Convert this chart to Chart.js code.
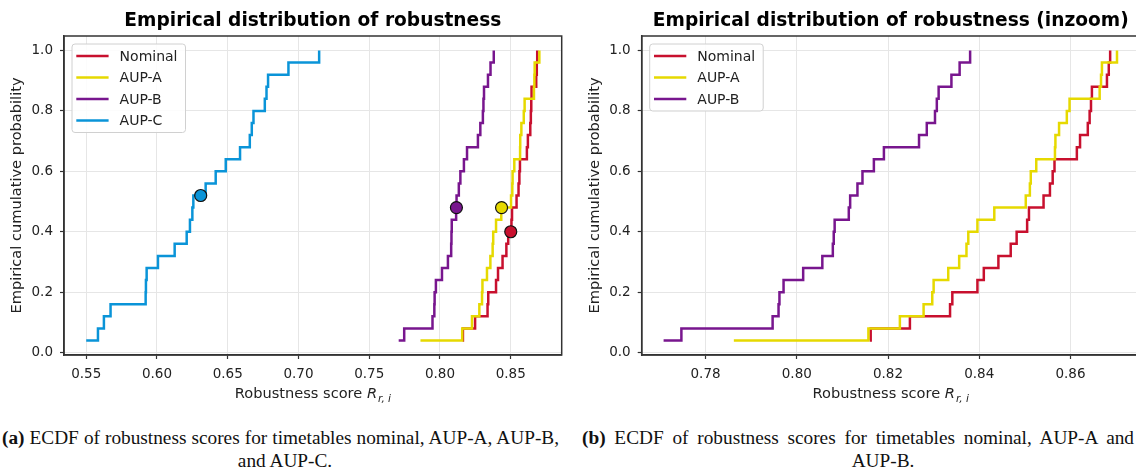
<!DOCTYPE html>
<html>
<head>
<meta charset="utf-8">
<script src="https://cdn.jsdelivr.net/npm/chart.js@4.4.0/dist/chart.umd.min.js"></script>
<style>
  html, body { margin: 0; padding: 0; background: #fff; width: 1136px; height: 473px; overflow: hidden; }
  body { position: relative; }
  canvas { position: absolute; top: 0; }
  #chartA { left: 0; }
  #chartB { left: 575px; }
  .cap { position: absolute; font-family: "Liberation Serif", serif; font-size: 19.3px; line-height: 21px; color: #111; white-space: nowrap; transform: translateX(-50%); }
  .cap.full { transform: none; white-space: normal; text-align: justify; text-align-last: justify; }
</style>
</head>
<body>
<canvas id="chartA" width="570" height="410"></canvas>
<canvas id="chartB" width="573" height="410"></canvas>
<div class="cap full" style="left:2px; top:427px; width:557px"><b>(a)</b> ECDF of robustness scores for timetables nominal, AUP-A, AUP-B,</div>
<div class="cap" style="left:285px; top:450px">and AUP-C.</div>
<div class="cap full" style="left:582px; top:427px; width:552px"><b>(b)</b> ECDF of robustness scores for timetables nominal, AUP-A and</div>
<div class="cap" style="left:883px; top:450px">AUP-B.</div>
<script>
// cumulative probability levels (25 timetables each)
const cumProb = [0.04, 0.08, 0.12, 0.16, 0.20, 0.24, 0.28, 0.32, 0.36, 0.40, 0.44, 0.48, 0.52,
                 0.56, 0.60, 0.64, 0.68, 0.72, 0.76, 0.80, 0.84, 0.88, 0.92, 0.96, 1.00];

// sorted robustness scores per timetable
const nominal = [0.8160, 0.8162, 0.8248, 0.8336, 0.8341, 0.8396, 0.8410, 0.8442, 0.8469, 0.8482, 0.8505, 0.8509, 0.8541,
                 0.8555, 0.8561, 0.8565, 0.8614, 0.8621, 0.8638, 0.8642, 0.8645, 0.8647, 0.8680, 0.8684, 0.8687];
const aupA = [0.7862, 0.8157, 0.8226, 0.8278, 0.8297, 0.8300, 0.8332, 0.8356, 0.8372, 0.8376, 0.8396, 0.8433, 0.8502,
              0.8511, 0.8513, 0.8525, 0.8566, 0.8567, 0.8575, 0.8592, 0.8598, 0.8664, 0.8667, 0.8669, 0.8702];
const aupB = [0.7708, 0.7747, 0.7947, 0.7960, 0.7962, 0.7971, 0.8014, 0.8056, 0.8079, 0.8081, 0.8083, 0.8114, 0.8117,
              0.8133, 0.8144, 0.8169, 0.8191, 0.8268, 0.8285, 0.8303, 0.8307, 0.8311, 0.8339, 0.8357, 0.8380];
const aupC = [0.5500, 0.5583, 0.5625, 0.5672, 0.5920, 0.5922, 0.5927, 0.6007, 0.6125, 0.6210, 0.6233, 0.6250, 0.6257,
              0.6344, 0.6415, 0.6486, 0.6587, 0.6656, 0.6670, 0.6682, 0.6762, 0.6774, 0.6785, 0.6929, 0.7146];

const seriesNames = ['Nominal', 'AUP-A', 'AUP-B', 'AUP-C'];
const seriesColors = ['#c8102e', '#e6d900', '#78168e', '#0a94d8'];

// highlighted points (panel a)
const markerX = [0.8500, 0.8435, 0.8116, 0.6309];
const markerY = [0.40, 0.48, 0.48, 0.52];

const xTicksA = [0.55, 0.60, 0.65, 0.70, 0.75, 0.80, 0.85];
const xTicksB = [0.78, 0.80, 0.82, 0.84, 0.86];
const yTicks = [0.0, 0.2, 0.4, 0.6, 0.8, 1.0];

Chart.defaults.font.family = 'DejaVu Sans';
Chart.defaults.color = '#222';

function ecdf(xs) {
  return xs.map((x, i) => ({ x: x, y: cumProb[i] }));
}

function lineSet(k, xs) {
  return {
    label: seriesNames[k],
    data: ecdf(xs),
    borderColor: seriesColors[k],
    backgroundColor: seriesColors[k],
    borderWidth: 2.5,
    stepped: 'before',
    pointRadius: 0,
    fill: false,
    order: 10 - k
  };
}

function makeScales(xmin, xmax, xTicks, yWidth, yTitlePad) {
  return {
    x: {
      type: 'linear', min: xmin, max: xmax,
      afterBuildTicks: s => { s.ticks = xTicks.map(v => ({ value: v })); },
      afterFit: s => { s.height = 55; },
      ticks: { callback: v => v.toFixed(2), font: { size: 13.5 }, color: '#222', padding: 7, maxRotation: 0, autoSkip: false },
      grid: { color: '#e6e6e6', lineWidth: 1, tickLength: 4, tickColor: '#333', tickWidth: 1.2 },
      border: { color: '#333', width: 1.5 }
    },
    y: {
      type: 'linear', min: -0.008, max: 1.048,
      afterBuildTicks: s => { s.ticks = yTicks.map(v => ({ value: v })); },
      afterFit: s => { s.width = yWidth; },
      ticks: { callback: v => v.toFixed(1), font: { size: 13.5 }, color: '#222', padding: 7, autoSkip: false },
      grid: { color: '#e6e6e6', lineWidth: 1, tickLength: 4, tickColor: '#333', tickWidth: 1.2 },
      border: { color: '#333', width: 1.5 },
      title: { display: true, text: 'Empirical cumulative probability', font: { size: 14.6 }, color: '#222', padding: { top: yTitlePad, bottom: 0 } }
    }
  };
}

// frame, title, x label with math, legend box
const decor = {
  id: 'decor',
  afterDatasetsDraw(chart, args, opts) {
    const ctx = chart.ctx, a = chart.chartArea;
    ctx.save();
    ctx.strokeStyle = '#333';
    ctx.lineWidth = 1.5;
    ctx.strokeRect(a.left, a.top, a.right - a.left, a.bottom - a.top);
    ctx.restore();
  },
  afterDraw(chart, args, opts) {
    const ctx = chart.ctx, a = chart.chartArea;
    const cx = (a.left + a.right) / 2;
    ctx.save();
    // title
    ctx.fillStyle = '#000';
    ctx.font = 'bold 18.6px "DejaVu Sans"';
    ctx.textAlign = 'center';
    ctx.textBaseline = 'alphabetic';
    ctx.fillText(opts.title, cx, 25.5);

    // x label: Robustness score R_{r,i}
    const p1 = 'Robustness score ';
    ctx.textAlign = 'left';
    ctx.fillStyle = '#222';
    ctx.font = '14.6px "DejaVu Sans"';
    const w1 = ctx.measureText(p1).width;
    ctx.font = 'italic 14.6px "DejaVu Sans"';
    const w2 = ctx.measureText('R').width;
    ctx.font = 'italic 10.5px "DejaVu Sans"';
    const w3 = ctx.measureText('r, i').width;
    let x0 = cx - (w1 + w2 + w3 + 1) / 2;
    const base = 398;
    ctx.font = '14.6px "DejaVu Sans"';
    ctx.fillText(p1, x0, base);
    ctx.font = 'italic 14.6px "DejaVu Sans"';
    ctx.fillText('R', x0 + w1, base);
    ctx.font = 'italic 10.5px "DejaVu Sans"';
    ctx.fillText('r, i', x0 + w1 + w2 + 1, base + 3.5);

    // legend
    const n = opts.count;
    ctx.font = '14px "DejaVu Sans"';
    let tw = 0;
    for (let i = 0; i < n; i++) tw = Math.max(tw, ctx.measureText(seriesNames[i]).width);
    const bx = a.left + 8, by = a.top + 8;
    const bw = 47.6 + tw + 8, bh = 24 + (n - 1) * 21.5;
    ctx.beginPath();
    ctx.roundRect(bx, by, bw, bh, 3);
    ctx.fillStyle = 'rgba(255,255,255,0.85)';
    ctx.fill();
    ctx.strokeStyle = '#d0d0d0';
    ctx.lineWidth = 1;
    ctx.stroke();
    ctx.textBaseline = 'middle';
    for (let i = 0; i < n; i++) {
      const yy = by + 12 + i * 21.5;
      ctx.strokeStyle = seriesColors[i];
      ctx.lineWidth = 2.5;
      ctx.beginPath();
      ctx.moveTo(bx + 4.3, yy);
      ctx.lineTo(bx + 36.6, yy);
      ctx.stroke();
      ctx.fillStyle = '#222';
      ctx.fillText(seriesNames[i], bx + 47.6, yy + 1);
    }
    ctx.restore();
  }
};

new Chart(document.getElementById('chartA'), {
  type: 'line',
  data: {
    datasets: [
      lineSet(0, nominal), lineSet(1, aupA), lineSet(2, aupB), lineSet(3, aupC),
      {
        label: 'marker',
        data: markerX.map((x, i) => ({ x: x, y: markerY[i] })),
        showLine: false,
        pointRadius: 6,
        pointBackgroundColor: seriesColors,
        pointBorderColor: '#111',
        pointBorderWidth: 1.2,
        order: 0
      }
    ]
  },
  options: {
    responsive: false,
    animation: false,
    layout: { padding: { left: 0, top: 36, right: 8.3, bottom: 0 } },
    scales: makeScales(0.5343, 0.8860, xTicksA, 64, 8.6),
    plugins: { legend: { display: false }, tooltip: { enabled: false },
               decor: { title: 'Empirical distribution of robustness', count: 4 } }
  },
  plugins: [decor]
});

new Chart(document.getElementById('chartB'), {
  type: 'line',
  data: {
    datasets: [lineSet(0, nominal), lineSet(1, aupA), lineSet(2, aupB)]
  },
  options: {
    responsive: false,
    animation: false,
    layout: { padding: { left: 0, top: 36, right: 8.2, bottom: 0 } },
    scales: makeScales(0.7660, 0.8752, xTicksB, 66.7, 11.6),
    plugins: { legend: { display: false }, tooltip: { enabled: false },
               decor: { title: 'Empirical distribution of robustness (inzoom)', count: 3 } }
  },
  plugins: [decor]
});
</script>
</body>
</html>
